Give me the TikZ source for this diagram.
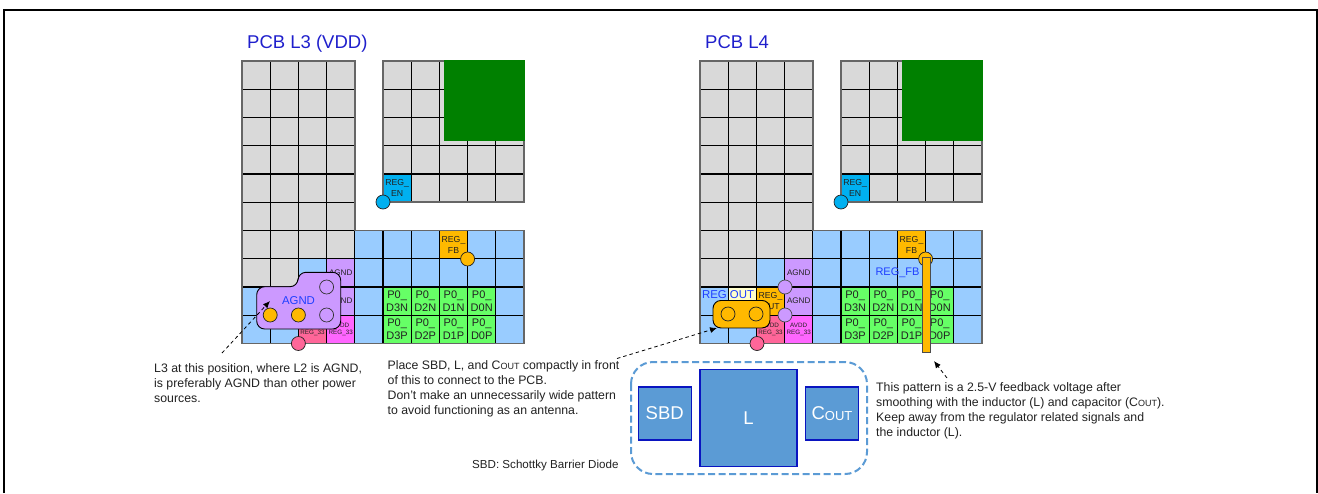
\documentclass[tikz,border=0pt]{standalone}
\usepackage{fontspec}
\setmainfont{Liberation Sans}
\usetikzlibrary{arrows.meta}
\definecolor{gridgray}{HTML}{D9D9D9}
\definecolor{padblue}{HTML}{99CCFF}
\definecolor{padgreen}{HTML}{66FF66}
\definecolor{padorange}{HTML}{FFB900}
\definecolor{padpurple}{HTML}{CC99FF}
\definecolor{padmagenta}{HTML}{FF66FF}
\definecolor{padpink}{HTML}{FF6699}
\definecolor{padcyan}{HTML}{00B0F0}
\definecolor{padyellow}{HTML}{FFFFCC}
\definecolor{kgreen}{HTML}{008000}
\definecolor{titleblue}{HTML}{1F1FCC}
\definecolor{labelblue}{HTML}{1F3FFF}
\definecolor{partblue}{HTML}{5B9BD5}
\definecolor{partedge}{HTML}{0A14C0}
\definecolor{inktext}{HTML}{222222}
\newcommand{\fs}[1]{\fontsize{#1}{#1}\selectfont}
\tikzset{
  cellbox/.style={draw=black,line width=1.1pt,minimum width=28.2pt,minimum height=28.25pt,inner sep=0pt,outer sep=0pt,align=center,text=inktext,font=\fontsize{11}{13.5}\selectfont},
  smallcell/.style={font=\fontsize{8.7}{10.7}\selectfont},
  tiny label/.style={font=\fontsize{6.3}{7.5}\selectfont},
  via/.style={circle,draw=inktext,line width=0.7pt,minimum size=14pt,inner sep=0pt,outer sep=0pt},
  outline/.style={draw=black!60,line width=1.3pt},
  title/.style={text=titleblue,inner sep=0pt,anchor=west,font=\fs{18.5}},
  netlabel/.style={text=labelblue,inner sep=0pt,font=\fs{11.4}},
  note/.style={inner sep=0pt,anchor=north west,align=left,text=inktext,font=\fontsize{12.3}{15}\selectfont},
  pointer/.style={draw=black,line width=0.8pt,dash pattern=on 3.5pt off 3pt,-{Latex[length=7pt,width=6pt]}},
  part/.style={draw=partedge,fill=partblue,line width=1.3pt,text=white,inner sep=0pt,outer sep=0pt,font=\fs{18.5}},
}
% \pcell{prefix}{col}{row}{fill}{options}{text}
\newcommand{\pcell}[6]{\node[cellbox,fill=#4,#5] (#1c#2r#3) at ({(#2+.5)*28.2},{61+(#3+.5)*28.25}) {#6};}
\newcommand{\pcbbase}[1]{%
  \foreach \c in {0,...,3}\foreach \r in {0,...,6}{\pcell{#1}{\c}{\r}{gridgray}{}{}}
  \foreach \c in {5,...,9}\foreach \r in {0,...,4}{\pcell{#1}{\c}{\r}{gridgray}{}{}}
  \foreach \c in {0,1}{\pcell{#1}{\c}{7}{gridgray}{}{}}
  \foreach \c in {4,...,9}\foreach \r in {6,...,9}{\pcell{#1}{\c}{\r}{padblue}{}{}}
  \pcell{#1}{2}{7}{padblue}{}{}
  \pcell{#1}{0}{8}{padblue}{}{}
  \pcell{#1}{1}{8}{padyellow}{}{}
  \pcell{#1}{0}{9}{padblue}{}{}
  \pcell{#1}{1}{9}{padblue}{}{}
  \pcell{#1}{2}{8}{padorange}{smallcell}{REG\_\\OUT}
  \pcell{#1}{2}{9}{padpink}{tiny label}{AVDD\\REG\_33}
  \pcell{#1}{3}{9}{padmagenta}{tiny label}{AVDD\\REG\_33}
  \pcell{#1}{3}{7}{padpurple}{font=\fs{8.1}}{AGND}
  \pcell{#1}{3}{8}{padpurple}{font=\fs{8.1}}{AGND}
  \pcell{#1}{7}{6}{padorange}{smallcell}{REG\_\\FB}
  \pcell{#1}{5}{4}{padcyan}{smallcell}{REG\_\\EN}
  \pcell{#1}{5}{8}{padgreen}{}{P0\_\\D3N}
  \pcell{#1}{6}{8}{padgreen}{}{P0\_\\D2N}
  \pcell{#1}{7}{8}{padgreen}{}{P0\_\\D1N}
  \pcell{#1}{8}{8}{padgreen}{}{P0\_\\D0N}
  \pcell{#1}{5}{9}{padgreen}{}{P0\_\\D3P}
  \pcell{#1}{6}{9}{padgreen}{}{P0\_\\D2P}
  \pcell{#1}{7}{9}{padgreen}{}{P0\_\\D1P}
  \pcell{#1}{8}{9}{padgreen}{}{P0\_\\D0P}
  \path[outline] (0,61) -- (113,61) -- (113,230.5) -- (282,230.5) -- (282,343.5) -- (0,343.5) -- cycle;
  \path[outline] (141,61) -- (282,61) -- (282,202) -- (141,202) -- cycle;
  \fill[kgreen] (202,60) rectangle (282.6,140.7);
  \node[via,fill=padcyan] (#1en) at (141,202) {};
  \node[via,fill=padorange] (#1fb) at (225.6,259) {};
}
\begin{document}
\begin{tikzpicture}[x=1pt,y=-1pt]
\useasboundingbox (0,0) rectangle (1318,493);
\fill[white] (0,0) rectangle (1318,493);
\draw[black,line width=2pt] (4,493) -- (4,10) -- (1317,10) -- (1317,493);

% ---------- L3
\begin{scope}[xshift=242pt]
\pcbbase{a}
\path[draw=black,line width=0.9pt,fill=padpurple,rounded corners=8pt]
  (14.7,286.7) -- (56,286.7) -- (56,272.3) -- (98.7,272.3) -- (98.7,329) -- (14.7,329) -- cycle;
\node[via,fill=padorange] (avia1) at (28.2,315) {};
\node[via,fill=padorange] (avia2) at (56.4,315) {};
\node[via,draw=black!80,fill=none] (avia3) at (84.6,287) {};
\node[via,draw=black!80,fill=none] (avia4) at (84.6,315) {};
\node[netlabel] (aagnd) at (56.5,301) {AGND};
\node[via,fill=padpink] (apink) at (56.4,343.5) {};
\end{scope}
\node[title] (atitle) at (247,44) {PCB L3 (VDD)};
\coordinate (atail) at (222,353);
\coordinate (atip) at (270,301);
\draw[pointer] (atail) -- (atip);

% ---------- L4
\begin{scope}[xshift=700pt]
\pcbbase{b}
\node[netlabel] (bregout) at (28,295) {REG OUT};
\node[draw=black,line width=0.9pt,fill=padorange,rounded corners=8pt,minimum width=57pt,minimum height=27.5pt,inner sep=0pt] (bshape) at (41.5,314.2) {};
\node[via,fill=none] (bvia1) at (28,314) {};
\node[via,fill=none] (bvia2) at (56,314) {};
\node[via,fill=padpurple,draw=black!70] (bvia3) at (85,287) {};
\node[via,fill=padpurple,draw=black!70] (bvia4) at (85,315) {};
\node[via,fill=padpink] (bpink) at (57,343.5) {};
\node[netlabel,font=\fs{11}] (bregfb) at (197.5,273) {REG\_FB};
\draw[fill=padorange,draw=black!70,line width=0.8pt] (222,257) rectangle (230,352);
\end{scope}
\node[title] (btitle) at (705,42) {PCB L4};
\coordinate (btail) at (617,358.5);
\coordinate (btip) at (717,328);
\draw[pointer] (btail) -- (btip);
\coordinate (ctail) at (947,378);
\coordinate (ctip) at (934,361);
\draw[pointer] (ctail) -- (ctip);

% ---------- parts
\draw[partblue,line width=2pt,dash pattern=on 7pt off 3.5pt,rounded corners=22pt] (631,362) rectangle (867,474);
\node[part,minimum size=53pt] (sbd) at (664.7,413.5) {SBD};
\node[part,minimum size=97pt] (ind) at (748.5,418) {L};
\node[part,minimum size=53pt] (cout) at (832,413.5) {C\raisebox{-1.5pt}{\fs{13}OUT}};

% ---------- notes
\node[note] (n1) at (154,363) {L3 at this position, where L2 is AGND,\\is preferably AGND than other power\\sources.};
\node[note] (n2) at (387.5,360.5) {Place SBD, L, and C{\fs{9}OUT} compactly in front\\of this to connect to the PCB.\\Don't make an unnecessarily wide pattern\\to avoid functioning as an antenna.};
\node[note] (n3) at (876,382.5) {This pattern is a 2.5-V feedback voltage after\\smoothing with the inductor (L) and capacitor (C{\fs{9}OUT}).\\Keep away from the regulator related signals and\\the inductor (L).};
\node[note,font=\fontsize{11.6}{15}\selectfont] (n4) at (472,460) {SBD: Schottky Barrier Diode};
\end{tikzpicture}
\end{document}
